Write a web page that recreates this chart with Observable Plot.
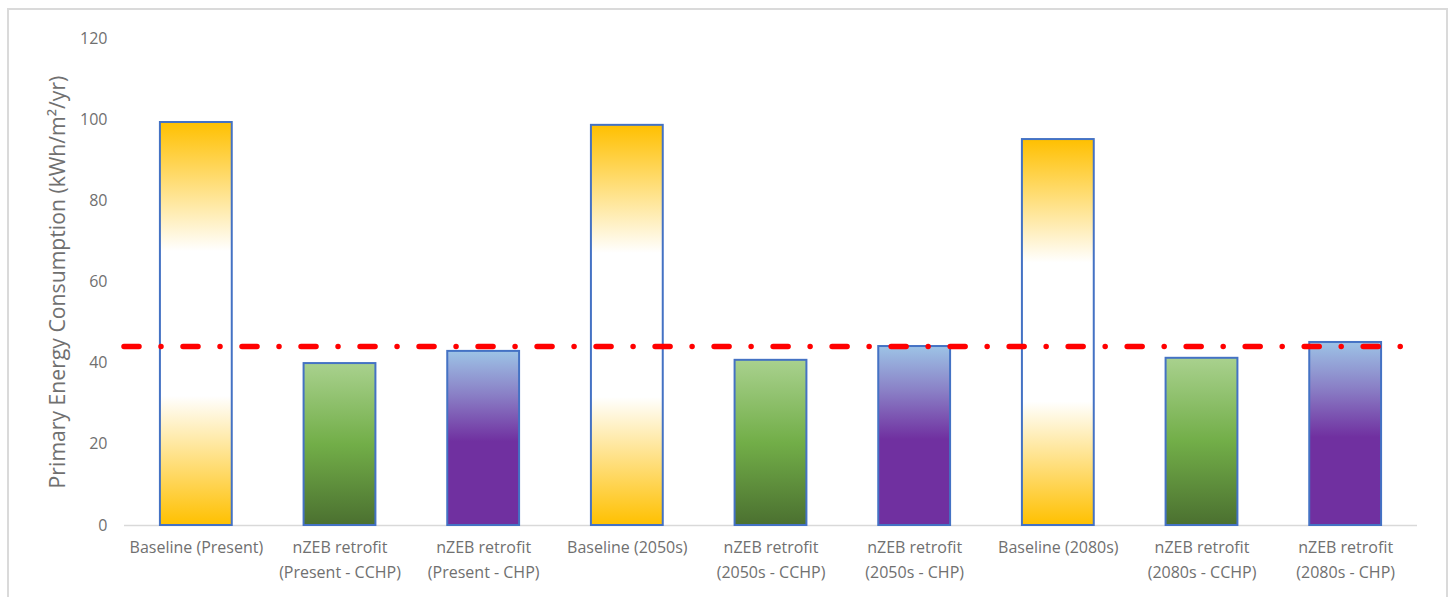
<!DOCTYPE html>
<html>
<head>
<meta charset="utf-8">
<script src="https://cdn.jsdelivr.net/npm/d3@7"></script>
<script src="https://cdn.jsdelivr.net/npm/@observablehq/plot@0.6"></script>
<style>
  html, body { margin: 0; padding: 0; background: #fff; overflow: hidden; }
  #wrap { position: relative; width: 1450px; height: 597px; }
  #frame { position: absolute; left: 7px; top: 8px; width: 1437px; height: 640px; border: 2px solid #dadada; pointer-events: none; }
  svg g[aria-label="y-axis label"] text { font-size: 21.2px; }
</style>
</head>
<body>
<div id="wrap"><div id="frame"></div><div id="chart"></div></div>
<script>
const categories = [
  "Baseline (Present)",
  "nZEB retrofit\n(Present - CCHP)",
  "nZEB retrofit\n(Present - CHP)",
  "Baseline (2050s)",
  "nZEB retrofit\n(2050s - CCHP)",
  "nZEB retrofit\n(2050s - CHP)",
  "Baseline (2080s)",
  "nZEB retrofit\n(2080s - CCHP)",
  "nZEB retrofit\n(2080s - CHP)"
];
const values = [99.3, 39.9, 42.9, 98.6, 40.7, 44.1, 95.1, 41.2, 45.1];
const types = ["base", "cchp", "chp", "base", "cchp", "chp", "base", "cchp", "chp"];
const threshold = [44.1];
const yTicks = [0, 20, 40, 60, 80, 100, 120];
const yLabel = "Primary Energy Consumption (kWh/m\u00B2/yr)";

const data = categories.map((c, i) => ({category: c, value: values[i], type: types[i]}));

const chart = Plot.plot({
  width: 1450,
  height: 597,
  marginLeft: 124,
  marginRight: 33,
  marginTop: 38,
  marginBottom: 72,
  style: {fontFamily: "'Open Sans', sans-serif", fontSize: "16px", color: "#707070", background: "transparent"},
  x: {domain: categories, paddingInner: 0.5, paddingOuter: 0.25, round: false, label: null},
  y: {domain: [0, 120], label: null},
  color: {type: "identity"},
  marks: [
    Plot.ruleY([0], {stroke: "#d9d9d9", strokeWidth: 1.5}),
    Plot.axisY({ticks: yTicks, tickSize: 0, tickPadding: 17, fontSize: 16, label: yLabel, labelAnchor: "center", labelOffset: 75, labelArrow: "none", fill: "#707070"}),
    Plot.axisX({tickSize: 0, tickPadding: 10, fontSize: 16, lineHeight: 1.55, fill: "#707070", label: null}),
    Plot.barY(data, {x: "category", y: "value", fill: d => `url(#grad-${d.type})`, stroke: "#4472C4", strokeWidth: 2}),
    Plot.ruleY(threshold, {stroke: "#ff0000", strokeWidth: 5.5, strokeDasharray: "15,22,0.01,22", strokeLinecap: "round"})
  ]
});

const svg = d3.select(chart);
const defs = svg.insert("defs", ":first-child");
const grads = {
  base: [[0, "#FFC000"], [0.32, "#FFFFFF"], [0.68, "#FFFFFF"], [1, "#FFC000"]],
  cchp: [[0, "#A9D18E"], [0.5, "#72AE48"], [1, "#4B7030"]],
  chp: [[0, "#9DC3E6"], [0.25, "#8A80C6"], [0.52, "#7030A0"], [1, "#7030A0"]]
};
for (const [k, stops] of Object.entries(grads)) {
  const g = defs.append("linearGradient").attr("id", `grad-${k}`).attr("x1", 0).attr("y1", 0).attr("x2", 0).attr("y2", 1);
  for (const [o, c] of stops) g.append("stop").attr("offset", o).attr("stop-color", c);
}
document.getElementById("chart").appendChild(chart);
</script>
</body>
</html>
